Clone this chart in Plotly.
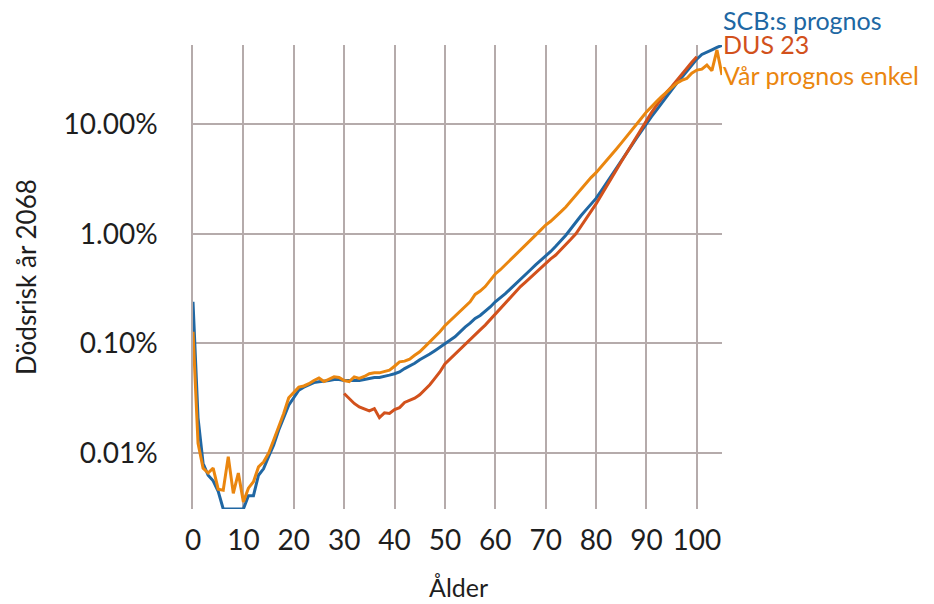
import math
import plotly.graph_objects as go

# Age in whole years
ages = list(range(0, 106))

# SCB:s prognos — death risk 2068 (fraction), ages 0..105
scb = [
    2.4e-3, 2.1e-4, 8.1e-5, 6.3e-5, 5.6e-5, 4.5e-5, 3.1e-5, 3.1e-5, 3.1e-5, 3.1e-5,
    3.1e-5, 4.1e-5, 4.1e-5, 6.3e-5, 7.2e-5, 9.3e-5, 1.18e-4, 1.62e-4, 2.07e-4, 2.74e-4,
    3.2e-4, 3.75e-4, 4.0e-4, 4.2e-4, 4.4e-4, 4.47e-4, 4.5e-4, 4.6e-4, 4.7e-4, 4.7e-4,
    4.6e-4, 4.6e-4, 4.6e-4, 4.6e-4, 4.7e-4, 4.8e-4, 4.9e-4, 4.9e-4, 5.0e-4, 5.15e-4,
    5.3e-4, 5.5e-4, 5.9e-4, 6.2e-4, 6.6e-4, 7.1e-4, 7.5e-4, 8.0e-4, 8.6e-4, 9.2e-4,
    1.0e-3, 1.07e-3, 1.15e-3, 1.28e-3, 1.41e-3, 1.53e-3, 1.69e-3, 1.8e-3, 1.95e-3, 2.15e-3,
    2.4e-3, 2.6e-3, 2.85e-3, 3.15e-3, 3.5e-3, 3.85e-3, 4.27e-3, 4.7e-3, 5.2e-3, 5.7e-3,
    6.2e-3, 6.9e-3, 7.7e-3, 8.6e-3, 9.7e-3, 1.11e-2, 1.29e-2, 1.46e-2, 1.65e-2, 1.86e-2,
    2.1e-2, 2.45e-2, 2.88e-2, 3.38e-2, 3.95e-2, 4.6e-2, 5.4e-2, 6.3e-2, 7.4e-2, 8.6e-2,
    0.101, 0.117, 0.134, 0.155, 0.177, 0.205, 0.235, 0.265, 0.30, 0.34,
    0.39, 0.43, 0.455, 0.475, 0.50, 0.52,
]

# DUS 23 — ages 30..100
dus_ages = list(range(30, 101))
dus = [
    3.5e-4, 3.15e-4, 2.84e-4, 2.64e-4, 2.55e-4, 2.43e-4, 2.55e-4, 2.11e-4, 2.33e-4, 2.3e-4,
    2.5e-4, 2.6e-4, 2.9e-4, 3.05e-4, 3.17e-4, 3.4e-4, 3.75e-4, 4.2e-4, 4.8e-4, 5.5e-4,
    6.5e-4, 7.2e-4, 8.0e-4, 9.0e-4, 1.0e-3, 1.1e-3, 1.2e-3, 1.33e-3, 1.47e-3, 1.65e-3,
    1.85e-3, 2.08e-3, 2.31e-3, 2.6e-3, 2.95e-3, 3.3e-3, 3.63e-3, 4.0e-3, 4.47e-3, 4.95e-3,
    5.4e-3, 5.9e-3, 6.4e-3, 7.1e-3, 7.9e-3, 8.9e-3, 1.0e-2, 1.16e-2, 1.37e-2, 1.6e-2,
    1.87e-2, 2.25e-2, 2.68e-2, 3.2e-2, 3.8e-2, 4.54e-2, 5.4e-2, 6.43e-2, 7.66e-2, 9.15e-2,
    0.109, 0.127, 0.148, 0.172, 0.195, 0.219, 0.25, 0.285, 0.32, 0.365,
    0.41,
]

# Vår prognos enkel — ages 0..105
var = [
    1.28e-3, 1.23e-4, 7.3e-5, 6.6e-5, 7.3e-5, 4.7e-5, 4.6e-5, 9.3e-5, 4.3e-5, 6.6e-5,
    3.6e-5, 4.8e-5, 5.5e-5, 7.5e-5, 8.3e-5, 1.0e-4, 1.31e-4, 1.74e-4, 2.3e-4, 3.2e-4,
    3.6e-4, 4.0e-4, 4.1e-4, 4.3e-4, 4.6e-4, 4.85e-4, 4.5e-4, 4.7e-4, 4.96e-4, 4.9e-4,
    4.6e-4, 4.5e-4, 4.96e-4, 4.8e-4, 5.0e-4, 5.3e-4, 5.4e-4, 5.4e-4, 5.56e-4, 5.7e-4,
    6.2e-4, 6.8e-4, 6.9e-4, 7.2e-4, 7.8e-4, 8.4e-4, 9.3e-4, 1.03e-3, 1.14e-3, 1.28e-3,
    1.45e-3, 1.6e-3, 1.75e-3, 1.95e-3, 2.15e-3, 2.4e-3, 2.8e-3, 3.0e-3, 3.3e-3, 3.8e-3,
    4.3e-3, 4.7e-3, 5.2e-3, 5.8e-3, 6.4e-3, 7.1e-3, 7.9e-3, 8.8e-3, 9.7e-3, 1.08e-2,
    1.2e-2, 1.3e-2, 1.42e-2, 1.58e-2, 1.75e-2, 1.98e-2, 2.24e-2, 2.55e-2, 2.9e-2, 3.25e-2,
    3.6e-2, 4.05e-2, 4.6e-2, 5.2e-2, 5.9e-2, 6.7e-2, 7.6e-2, 8.7e-2, 9.9e-2, 0.113,
    0.129, 0.145, 0.16, 0.178, 0.197, 0.215, 0.235, 0.25, 0.26, 0.29,
    0.31, 0.316, 0.345, 0.306, 0.473, 0.28,
]

series_names = ["SCB:s prognos", "DUS 23", "Vår prognos enkel"]
series_colors = ["#2067a3", "#d2511c", "#ea860f"]

x_ticks = list(range(0, 101, 10))
y_ticks = [0.1, 0.01, 0.001, 0.0001]
y_tick_text = ["10.00%", "1.00%", "0.10%", "0.01%"]

FONT = "Lato"
GRID = "#b5abab"
TEXT = "#1e1e1e"

W, H = 934, 604
ML, MR, MT, MB = 193, 212, 45, 95

fig = go.Figure()
fig.add_trace(go.Scatter(x=ages, y=scb, mode="lines", name=series_names[0],
                         line=dict(color=series_colors[0], width=3)))
fig.add_trace(go.Scatter(x=dus_ages, y=dus, mode="lines", name=series_names[1],
                         line=dict(color=series_colors[1], width=3)))
fig.add_trace(go.Scatter(x=ages, y=var, mode="lines", name=series_names[2],
                         line=dict(color=series_colors[2], width=3)))

fig.update_layout(
    width=W, height=H,
    margin=dict(l=ML, r=MR, t=MT, b=MB),
    paper_bgcolor="white", plot_bgcolor="white",
    showlegend=False,
    font=dict(family=FONT, color=TEXT),
)

fig.update_xaxes(
    range=[0, 105], tickvals=x_ticks, showgrid=True, gridcolor=GRID, gridwidth=1.6,
    zeroline=False, showline=False, ticks="", tickfont=dict(size=28, family=FONT, color=TEXT),
    ticklabelstandoff=12,
)
fig.update_yaxes(
    type="log", range=[math.log10(3.1e-5), math.log10(0.525)],
    tickvals=y_ticks, ticktext=y_tick_text,
    showgrid=True, gridcolor=GRID, gridwidth=1.6, zeroline=False,
    showline=True, linecolor=GRID, linewidth=1.6, ticks="",
    tickfont=dict(size=28, family=FONT, color=TEXT), ticklabelstandoff=28,
)

plot_h = H - MT - MB
plot_w = W - ML - MR


def py(px):
    return (H - MB - px) / plot_h


def px_(x):
    return (x - ML) / plot_w


# Axis titles
fig.add_annotation(text="Ålder", xref="paper", yref="paper", x=px_(458), y=py(587),
                   showarrow=False, font=dict(size=25, family=FONT, color=TEXT),
                   xanchor="center", yanchor="middle")
fig.add_annotation(text="Dödsrisk år 2068", xref="paper", yref="paper", x=px_(26), y=0.5,
                   textangle=-90, showarrow=False, font=dict(size=26, family=FONT, color=TEXT),
                   xanchor="center", yanchor="middle")

# Series labels at the right end of the lines
label_rows = [20, 44, 75]
for name, color, row in zip(series_names, series_colors, label_rows):
    fig.add_annotation(text=name, xref="paper", yref="paper", x=px_(721), y=py(row),
                       showarrow=False, font=dict(size=25, family=FONT, color=color),
                       xanchor="left", yanchor="middle")

fig.write_html("out.html")
